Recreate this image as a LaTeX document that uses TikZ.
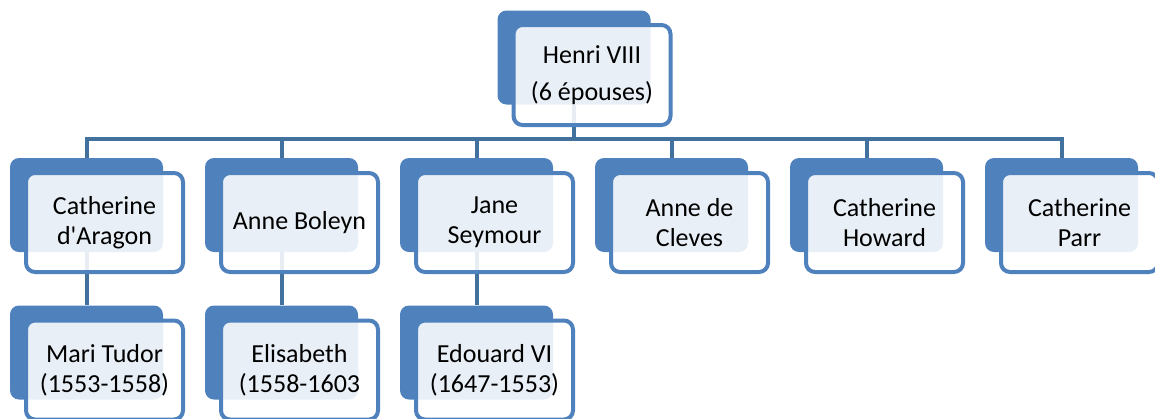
\documentclass[tikz,border=0pt]{standalone}
\usepackage{fontspec}
\setmainfont{Carlito}
\definecolor{accent}{HTML}{4F81BD}
\definecolor{connc}{HTML}{41719C}
\tikzset{
  backbox/.style={fill=accent, rounded corners=9pt, minimum width=153pt, minimum height=94pt, inner sep=0pt},
  frontbox/.style={draw=accent, line width=4pt, fill=white, fill opacity=0.88, text opacity=1,
    rounded corners=9pt, minimum width=157pt, minimum height=99pt, inner sep=0pt, align=center,
    font=\fontsize{26}{30}\selectfont, text=black},
  conn/.style={draw=connc, line width=4pt}
}
\begin{document}
\begin{tikzpicture}[x=1pt,y=-1pt]
\useasboundingbox (0,0) rectangle (1155,418);
% back boxes
\node[backbox] (hB) at (574,57.5) {};
\node[backbox] (aB) at (86.5,205) {};
\node[backbox] (bB) at (281.5,205) {};
\node[backbox] (cB) at (476.5,205) {};
\node[backbox] (dB) at (671.5,205) {};
\node[backbox] (eB) at (866.5,205) {};
\node[backbox] (fB) at (1061.5,205) {};
\node[backbox] (mB) at (86.5,352.5) {};
\node[backbox] (lB) at (281.5,352.5) {};
\node[backbox] (oB) at (476.5,352.5) {};
% connectors
\coordinate (bus) at (574,139);
\draw[conn] (hB.south) -- (hB.south |- bus);
\draw[conn] (aB.north) -- (aB.north |- bus) -- (fB.north |- bus) -- (fB.north);
\draw[conn] (bB.north) -- (bB.north |- bus);
\draw[conn] (cB.north) -- (cB.north |- bus);
\draw[conn] (dB.north) -- (dB.north |- bus);
\draw[conn] (eB.north) -- (eB.north |- bus);
\draw[conn] (aB.south) -- (mB.north);
\draw[conn] (bB.south) -- (lB.north);
\draw[conn] (cB.south) -- (oB.north);
% front boxes
\node[frontbox, font=\fontsize{26}{37}\selectfont, minimum height=100pt] (h) at (592,75) {Henri VIII\\(6 épouses)};
\node[frontbox] (a) at (104.5,222.5) {Catherine\\d\textquotesingle Aragon};
\node[frontbox] (b) at (299.5,222.5) {Anne Boleyn};
\node[frontbox] (c) at (494.5,222.5) {Jane\\Seymour};
\node[frontbox] (d) at (689.5,222.5) {Anne de\\Cleves};
\node[frontbox] (e) at (884.5,222.5) {Catherine\\Howard};
\node[frontbox] (f) at (1079.5,222.5) {Catherine\\Parr};
\node[frontbox] (m) at (104.5,370) {Mari Tudor\\(1553-1558)};
\node[frontbox] (l) at (299.5,370) {Elisabeth\\(1558-1603};
\node[frontbox] (o) at (494.5,370) {Edouard VI\\(1647-1553)};
\end{tikzpicture}
\end{document}
